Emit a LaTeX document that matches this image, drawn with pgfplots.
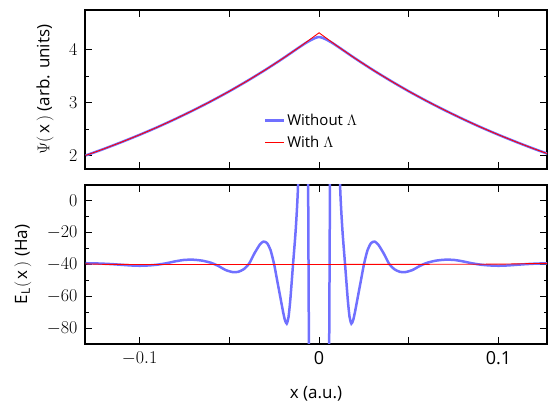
\documentclass[border=0pt]{standalone}
\usepackage{fix-cm}
\usepackage{amsmath}
\usepackage{fontspec}
\setmainfont{Open Sans}
\usepackage{pgfplots}
\pgfplotsset{compat=1.18}

\definecolor{psiblue}{RGB}{112,112,255}
\definecolor{psired}{RGB}{255,0,0}

% Psi(x): without / with Lambda
\pgfplotstableread{
x y
-0.130 2.006
-0.120 2.128
-0.110 2.258
-0.100 2.395
-0.090 2.540
-0.080 2.695
-0.070 2.859
-0.060 3.032
-0.050 3.216
-0.040 3.412
-0.030 3.619
-0.020 3.839
-0.010 4.070
-0.005 4.175
0.000 4.240
0.005 4.175
0.010 4.070
0.020 3.839
0.030 3.619
0.040 3.412
0.050 3.216
0.060 3.032
0.070 2.859
0.080 2.695
0.090 2.540
0.100 2.395
0.110 2.258
0.120 2.128
0.130 2.006
}\psiwithout
\pgfplotstableread{
x y
-0.130 2.006
-0.120 2.128
-0.110 2.258
-0.100 2.395
-0.090 2.540
-0.080 2.695
-0.070 2.859
-0.060 3.032
-0.050 3.216
-0.040 3.412
-0.030 3.619
-0.020 3.839
-0.010 4.072
0.000 4.320
0.010 4.072
0.020 3.839
0.030 3.619
0.040 3.412
0.050 3.216
0.060 3.032
0.070 2.859
0.080 2.695
0.090 2.540
0.100 2.395
0.110 2.258
0.120 2.128
0.130 2.006
}\psiwith

% local energy E_L(x)
\pgfplotstableread{
x y
-0.1300 -39.2
-0.1250 -39.3
-0.1200 -39.5
-0.1150 -39.8
-0.1100 -40.2
-0.1050 -40.6
-0.1000 -40.8
-0.0950 -40.6
-0.0900 -40.1
-0.0850 -39.2
-0.0800 -38.0
-0.0750 -37.1
-0.0700 -37.0
-0.0650 -37.6
-0.0600 -39.0
-0.0560 -41.0
-0.0520 -43.5
-0.0480 -44.8
-0.0450 -44.6
-0.0420 -43.0
-0.0390 -39.5
-0.0360 -33.0
-0.0330 -27.5
-0.0310 -25.6
-0.0290 -26.5
-0.0270 -31.0
-0.0250 -40.0
-0.0235 -49.0
-0.0220 -58.0
-0.0200 -70.0
-0.0190 -75.0
-0.0180 -77.2
-0.0170 -73.0
-0.0160 -62.0
-0.0145 -40.0
-0.0130 -18.0
-0.0117 10.0
-0.0100 80.0
-0.0080 150.0
-0.0064 70.0
-0.0053 -150.0
-0.0030 -300.0
0.0000 -400.0
0.0030 -300.0
0.0053 -150.0
0.0064 70.0
0.0080 150.0
0.0100 80.0
0.0117 10.0
0.0130 -18.0
0.0145 -40.0
0.0160 -62.0
0.0170 -73.0
0.0180 -77.2
0.0190 -75.0
0.0200 -70.0
0.0220 -58.0
0.0235 -49.0
0.0250 -40.0
0.0270 -31.0
0.0290 -26.5
0.0310 -25.6
0.0330 -27.5
0.0360 -33.0
0.0390 -39.5
0.0420 -43.0
0.0450 -44.6
0.0480 -44.8
0.0520 -43.5
0.0560 -41.0
0.0600 -39.0
0.0650 -37.6
0.0700 -37.0
0.0750 -37.1
0.0800 -38.0
0.0850 -39.2
0.0900 -40.1
0.0950 -40.6
0.1000 -40.8
0.1050 -40.6
0.1100 -40.2
0.1150 -39.8
0.1200 -39.5
0.1250 -39.3
0.1300 -39.2
}\elwithout
\pgfplotstableread{
x y
-0.130 -39.6
-0.120 -39.9
-0.100 -40.0
0.000 -40.0
0.100 -39.8
0.130 -39.2
}\elwith

\newcommand\tickfont{\fontsize{18}{18}\selectfont}
\newcommand\labfont{\fontsize{17}{20}\selectfont}

\pgfplotsset{
  panel/.style={
    scale only axis, width=462pt, height=159pt,
    xmin=-0.1304, xmax=0.1270,
    axis line style={line width=1.2pt},
    tick style={line width=1pt, black},
    major tick length=7pt, minor tick length=3.5pt,
    tick align=inside,
    xtick={-0.1,-0.05,0,0.05,0.1},
    yticklabel style={font=\tickfont, xshift=-4pt},
    xticklabel style={font=\tickfont, yshift=-4pt},
    clip=true,
  },
}

\begin{document}
\begin{tikzpicture}
\path[use as bounding box] (0,0) rectangle (548pt,402pt);

\begin{axis}[panel, at={(85pt,233pt)}, anchor=south west,
  ymin=1.75, ymax=4.75, ytick={2,3,4}, minor y tick num=1,
  xticklabels={},
  ylabel={$\Psi(\,\text{x}\,)$ (arb. units)},
  ylabel style={font=\labfont, at={([xshift=-40pt]axis description cs:0,0.5)}, anchor=center},
  legend cell align=left,
  legend image code/.code={\draw[#1] (0pt,0pt) -- (19pt,0pt);},
  legend style={draw=none, fill=none, at={(0.38,0.372)}, anchor=north west,
    font=\fontsize{15}{18}\selectfont, row sep=5pt,
    /tikz/every even column/.append style={column sep=9pt}},
]
\addplot[psiblue, line width=2.5pt, smooth] table {\psiwithout};
\addlegendentry{Without $\Lambda$}
\addplot[psired, line width=0.9pt] table {\psiwith};
\addlegendentry{With $\Lambda$}
\end{axis}

\begin{axis}[panel, at={(85pt,58pt)}, anchor=south west,
  ymin=-90, ymax=10, ytick={-80,-60,-40,-20,0}, minor y tick num=1,
  xticklabels={$-0.1$,,0,,0.1},
  ylabel={E$_{\text{L}}(\,\text{x}\,)$ (Ha)},
  ylabel style={font=\labfont, at={([xshift=-62pt]axis description cs:0,0.5)}, anchor=center},
  xlabel={x (a.u.)},
  xlabel style={font=\labfont, at={(axis description cs:0.5,0)}, anchor=base, yshift=-55pt},
]
\addplot[psiblue, line width=2.5pt, smooth, tension=0.4] table {\elwithout};
\addplot[psired, line width=0.9pt] table {\elwith};
\end{axis}
\end{tikzpicture}
\end{document}
